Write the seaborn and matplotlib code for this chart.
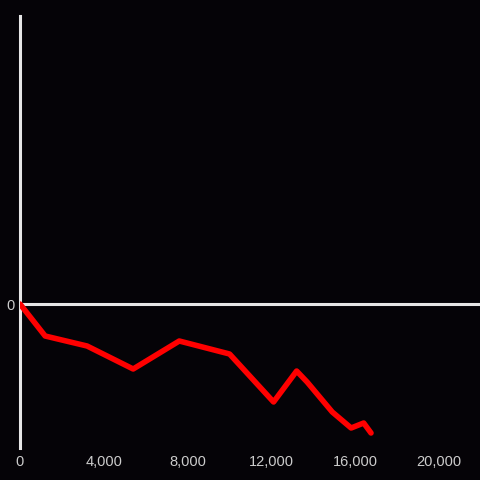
import matplotlib
matplotlib.use('Agg')
import matplotlib.pyplot as plt
import numpy as np
import pandas as pd
import seaborn as sns

# values
steps = [0, 1200, 3200, 5400, 7600, 10000, 12100, 13200, 13700, 14900, 15800, 16400, 16750]
values = [0, -320, -420, -650, -370, -500, -980, -670, -780, -1080, -1240, -1190, -1290]
xticks = [0, 4000, 8000, 12000, 16000, 20000]

df = pd.DataFrame({'step': steps, 'value': values})

bg = '#050307'
sns.set_style('dark')
plt.rcParams['font.family'] = ['Liberation Sans', 'DejaVu Sans']

fig = plt.figure(figsize=(4.8, 4.8), dpi=100, facecolor=bg)
ax = fig.add_axes([20 / 480, 32 / 480, 460 / 480, 432 / 480])
ax.set_facecolor(bg)

ax.axhline(0, color='#e6e6e6', linewidth=2.2, zorder=1)
sns.lineplot(data=df, x='step', y='value', color='#ff0000', linewidth=4, ax=ax, zorder=3)

ax.set_xlim(0, 21950)
ax.set_ylim(-1440, 2880)
ax.set_xticks(xticks)
ax.set_xticklabels(['{:,}'.format(t) for t in xticks])
ax.set_yticks([0])
ax.set_yticklabels(['0'])
ax.tick_params(axis='both', length=0, colors='#cccccc', labelsize=10.5)
ax.tick_params(axis='x', pad=5)
ax.tick_params(axis='y', pad=4)
ax.set_xlabel('')
ax.set_ylabel('')
ax.grid(False)

for s in ['top', 'right', 'bottom']:
    ax.spines[s].set_visible(False)
ax.spines['left'].set_color('#e6e6e6')
ax.spines['left'].set_linewidth(2.2)

fig.savefig('out.png', dpi=100, facecolor=bg)
